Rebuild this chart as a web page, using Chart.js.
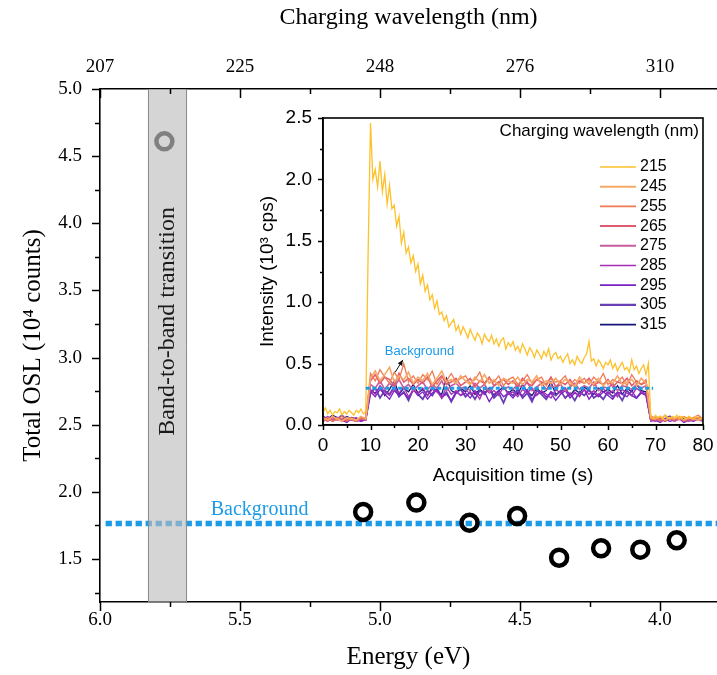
<!DOCTYPE html>
<html>
<head>
<meta charset="utf-8">
<title>Total OSL vs charging energy</title>
<script src="https://cdn.jsdelivr.net/npm/chart.js@4.4.1/dist/chart.umd.min.js"></script>
<style>
  html, body { margin: 0; padding: 0; background: #fff; }
  #wrap { position: relative; width: 717px; height: 675px; background: #fff; }
  #mainChart { position: absolute; left: 0; top: 0; }
  #insetChart { position: absolute; left: 250px; top: 100px; }
</style>
</head>
<body>
<div id="wrap">
  <canvas id="mainChart" width="717" height="675"></canvas>
  <canvas id="insetChart" width="467" height="395"></canvas>
</div>
<script>
const SERIF = "'Liberation Serif', 'Times New Roman', serif";
const SANS = "'Liberation Sans', Arial, sans-serif";
const BLUE = "#1b9be8";

/* ---------- main panel: total OSL vs charging photon energy ---------- */
const energyEv = [5.06, 4.87, 4.68, 4.51, 4.36, 4.21, 4.07, 3.94];
const totalOsl = [1.85, 1.92, 1.77, 1.82, 1.51, 1.58, 1.57, 1.64];
const bandPointEv = [5.77];
const bandPointOsl = [4.61];
const backgroundOsl = 1.765;
const backgroundSpanEv = [5.98, 3.796];
const bandEdgesEv = [5.829, 5.689];
const bandLabelOsl = 3.27;

const energyMajor = [6.0, 5.5, 5.0, 4.5, 4.0];
const energyMinor = [5.75, 5.25, 4.75, 4.25];
const wavelengthLabels = ["207", "225", "248", "276", "310"];
const oslMajor = [1.5, 2.0, 2.5, 3.0, 3.5, 4.0, 4.5, 5.0];
const oslMinor = [1.25, 1.75, 2.25, 2.75, 3.25, 3.75, 4.25, 4.75];

/* ---------- inset: OSL decay curves per charging wavelength ---------- */
const timeFine = [
  0, 0.5, 1, 1.5, 2, 2.5, 3, 3.5, 4, 4.5, 5, 5.5, 6, 6.5, 7, 7.5, 8, 8.5, 9, 9.5,
  10, 10.5, 11, 11.5, 12, 12.5, 13, 13.5, 14, 14.5, 15, 15.5, 16, 16.5, 17, 17.5, 18, 18.5, 19, 19.5,
  20, 20.5, 21, 21.5, 22, 22.5, 23, 23.5, 24, 24.5, 25, 25.5, 26, 26.5, 27, 27.5, 28, 28.5, 29, 29.5,
  30, 30.5, 31, 31.5, 32, 32.5, 33, 33.5, 34, 34.5, 35, 35.5, 36, 36.5, 37, 37.5, 38, 38.5, 39, 39.5,
  40, 40.5, 41, 41.5, 42, 42.5, 43, 43.5, 44, 44.5, 45, 45.5, 46, 46.5, 47, 47.5, 48, 48.5, 49, 49.5,
  50, 50.5, 51, 51.5, 52, 52.5, 53, 53.5, 54, 54.5, 55, 55.5, 56, 56.5, 57, 57.5, 58, 58.5, 59, 59.5,
  60, 60.5, 61, 61.5, 62, 62.5, 63, 63.5, 64, 64.5, 65, 65.5, 66, 66.5, 67, 67.5, 68, 68.5, 69, 69.5,
  70, 70.5, 71, 71.5, 72, 72.5, 73, 73.5, 74, 74.5, 75, 75.5, 76, 76.5, 77, 77.5, 78, 78.5, 79, 79.5,
  80
];
const timeCoarse = [
  0, 1, 2, 3, 4, 5, 6, 7, 8, 9, 10, 11, 12, 13, 14, 15, 16, 17, 18, 19,
  20, 21, 22, 23, 24, 25, 26, 27, 28, 29, 30, 31, 32, 33, 34, 35, 36, 37, 38, 39,
  40, 41, 42, 43, 44, 45, 46, 47, 48, 49, 50, 51, 52, 53, 54, 55, 56, 57, 58, 59,
  60, 61, 62, 63, 64, 65, 66, 67, 68, 69, 70, 71, 72, 73, 74, 75, 76, 77, 78, 79,
  80
];

const wavelengthsNm = ["215", "245", "255", "265", "275", "285", "295", "305", "315"];
const curveColors = ["#fdc12a", "#f6a866", "#ef7a55", "#df5b70", "#c75d9e", "#a62db6", "#7a22c4", "#6840b4", "#16167a"];
const curveWidths = [1.3, 1.6, 1.3, 1.6, 1.6, 1.3, 1.3, 1.8, 1.3];

const osl215 = [
  0.10, 0.14, 0.09, 0.12, 0.08, 0.11, 0.10, 0.13, 0.08, 0.11,
  0.09, 0.12, 0.10, 0.08, 0.12, 0.10, 0.13, 0.09, 0.11, 1.40,
  2.46, 2.00, 2.08, 1.94, 2.15, 1.90, 2.04, 1.80, 1.95, 1.76,
  1.79, 1.62, 1.70, 1.48, 1.57, 1.40, 1.45, 1.32, 1.38, 1.25,
  1.31, 1.15, 1.22, 1.09, 1.14, 1.02, 1.06, 0.95, 1.01, 0.90,
  0.92, 0.85, 0.89, 0.80, 0.83, 0.86, 0.77, 0.81, 0.74, 0.80,
  0.76, 0.71, 0.78, 0.73, 0.69, 0.75, 0.72, 0.66, 0.74, 0.70,
  0.68, 0.73, 0.66, 0.70, 0.64, 0.69, 0.71, 0.62, 0.67, 0.64,
  0.68, 0.61, 0.64, 0.59, 0.66, 0.62, 0.57, 0.63, 0.60, 0.55,
  0.61, 0.58, 0.54, 0.60, 0.56, 0.62, 0.53, 0.57, 0.59, 0.54,
  0.56, 0.51, 0.55, 0.58, 0.50, 0.53, 0.49, 0.56, 0.52, 0.50,
  0.55, 0.58, 0.68, 0.52, 0.54, 0.48, 0.53, 0.50, 0.46, 0.51,
  0.49, 0.53, 0.46, 0.50, 0.44, 0.48, 0.51, 0.45, 0.47, 0.43,
  0.53, 0.45, 0.48, 0.42, 0.46, 0.49, 0.41, 0.50, 0.07, 0.05,
  0.08, 0.06, 0.07, 0.05, 0.08, 0.06, 0.05, 0.07, 0.06, 0.08,
  0.05, 0.07, 0.06, 0.05, 0.07, 0.06, 0.05, 0.07, 0.06, 0.05,
  0.06
];
const osl245 = [
  0.06, 0.04, 0.07, 0.05, 0.03, 0.06, 0.05, 0.04, 0.07, 0.05,
  0.38, 0.44, 0.36, 0.41, 0.47, 0.35, 0.40, 0.37, 0.43, 0.34,
  0.39, 0.36, 0.42, 0.33, 0.38, 0.44, 0.35, 0.37, 0.34, 0.40,
  0.36, 0.33, 0.39, 0.35, 0.41, 0.34, 0.37, 0.32, 0.38, 0.36,
  0.34, 0.39, 0.33, 0.37, 0.35, 0.40, 0.32, 0.36, 0.34, 0.38,
  0.33, 0.37, 0.35, 0.31, 0.39, 0.34, 0.36, 0.33, 0.38, 0.32,
  0.36, 0.34, 0.40, 0.33, 0.35, 0.37, 0.32, 0.38, 0.34, 0.06,
  0.05, 0.07, 0.04, 0.06, 0.05, 0.07, 0.04, 0.06, 0.05, 0.04,
  0.06
];
const osl255 = [
  0.04, 0.06, 0.03, 0.05, 0.07, 0.04, 0.05, 0.03, 0.06, 0.05,
  0.42, 0.36, 0.45, 0.39, 0.34, 0.43, 0.37, 0.50, 0.35, 0.40,
  0.34, 0.41, 0.37, 0.44, 0.33, 0.39, 0.36, 0.42, 0.35, 0.38,
  0.40, 0.34, 0.37, 0.43, 0.33, 0.38, 0.35, 0.40, 0.32, 0.37,
  0.39, 0.33, 0.36, 0.41, 0.34, 0.37, 0.39, 0.32, 0.38, 0.35,
  0.36, 0.40, 0.32, 0.37, 0.34, 0.38, 0.33, 0.39, 0.35, 0.42,
  0.33, 0.37, 0.35, 0.39, 0.32, 0.41, 0.35, 0.33, 0.37, 0.07,
  0.06, 0.04, 0.08, 0.05, 0.06, 0.04, 0.07, 0.05, 0.06, 0.08,
  0.05
];
const osl265 = [
  0.05, 0.03, 0.06, 0.04, 0.05, 0.03, 0.06, 0.04, 0.05, 0.06,
  0.36, 0.41, 0.34, 0.39, 0.37, 0.32, 0.42, 0.35, 0.38, 0.33,
  0.37, 0.34, 0.39, 0.31, 0.36, 0.40, 0.33, 0.35, 0.38, 0.32,
  0.35, 0.38, 0.31, 0.36, 0.34, 0.39, 0.32, 0.35, 0.37, 0.33,
  0.36, 0.31, 0.38, 0.34, 0.32, 0.37, 0.35, 0.33, 0.39, 0.31,
  0.35, 0.33, 0.37, 0.31, 0.36, 0.34, 0.38, 0.32, 0.35, 0.33,
  0.37, 0.31, 0.35, 0.34, 0.38, 0.32, 0.36, 0.33, 0.35, 0.05,
  0.04, 0.06, 0.03, 0.05, 0.04, 0.06, 0.03, 0.05, 0.04, 0.06,
  0.04
];
const osl275 = [
  0.03, 0.05, 0.04, 0.06, 0.03, 0.05, 0.04, 0.03, 0.05, 0.04,
  0.33, 0.30, 0.36, 0.29, 0.34, 0.31, 0.37, 0.30, 0.33, 0.28,
  0.32, 0.35, 0.29, 0.33, 0.30, 0.36, 0.28, 0.32, 0.34, 0.30,
  0.31, 0.28, 0.34, 0.30, 0.33, 0.27, 0.32, 0.35, 0.29, 0.31,
  0.29, 0.33, 0.30, 0.35, 0.28, 0.31, 0.34, 0.29, 0.32, 0.30,
  0.33, 0.28, 0.31, 0.34, 0.29, 0.32, 0.30, 0.35, 0.28, 0.31,
  0.30, 0.34, 0.28, 0.32, 0.31, 0.29, 0.33, 0.30, 0.32, 0.04,
  0.05, 0.03, 0.04, 0.06, 0.03, 0.05, 0.04, 0.03, 0.05, 0.04,
  0.03
];
const osl285 = [
  0.05, 0.07, 0.04, 0.06, 0.03, 0.05, 0.04, 0.06, 0.03, 0.04,
  0.29, 0.25, 0.32, 0.27, 0.24, 0.30, 0.26, 0.31, 0.23, 0.28,
  0.26, 0.30, 0.24, 0.29, 0.27, 0.22, 0.31, 0.25, 0.28, 0.24,
  0.29, 0.25, 0.27, 0.21, 0.30, 0.26, 0.28, 0.24, 0.31, 0.25,
  0.27, 0.23, 0.29, 0.26, 0.30, 0.24, 0.28, 0.25, 0.22, 0.29,
  0.26, 0.30, 0.24, 0.27, 0.23, 0.29, 0.25, 0.28, 0.24, 0.30,
  0.25, 0.28, 0.23, 0.29, 0.26, 0.24, 0.30, 0.27, 0.25, 0.04,
  0.03, 0.05, 0.04, 0.06, 0.03, 0.05, 0.04, 0.03, 0.06, 0.04,
  0.05
];
const osl295 = [
  0.04, 0.06, 0.03, 0.05, 0.04, 0.02, 0.05, 0.03, 0.04, 0.05,
  0.27, 0.23, 0.29, 0.25, 0.21, 0.28, 0.24, 0.26, 0.22, 0.29,
  0.24, 0.27, 0.21, 0.26, 0.29, 0.23, 0.25, 0.20, 0.27, 0.24,
  0.26, 0.22, 0.28, 0.24, 0.27, 0.19, 0.25, 0.28, 0.23, 0.26,
  0.22, 0.27, 0.24, 0.29, 0.21, 0.25, 0.27, 0.23, 0.26, 0.20,
  0.25, 0.28, 0.22, 0.26, 0.24, 0.29, 0.21, 0.26, 0.23, 0.27,
  0.24, 0.21, 0.27, 0.25, 0.23, 0.28, 0.22, 0.26, 0.24, 0.03,
  0.04, 0.02, 0.05, 0.03, 0.04, 0.05, 0.02, 0.04, 0.03, 0.05,
  0.04
];
const osl305 = [
  0.06, 0.04, 0.07, 0.05, 0.08, 0.04, 0.06, 0.05, 0.03, 0.05,
  0.26, 0.30, 0.22, 0.28, 0.25, 0.31, 0.23, 0.27, 0.20, 0.29,
  0.25, 0.21, 0.28, 0.24, 0.30, 0.22, 0.27, 0.19, 0.26, 0.29,
  0.23, 0.27, 0.21, 0.28, 0.25, 0.30, 0.22, 0.26, 0.18, 0.27,
  0.24, 0.29, 0.22, 0.26, 0.19, 0.28, 0.25, 0.21, 0.27, 0.24,
  0.28, 0.22, 0.26, 0.20, 0.27, 0.24, 0.29, 0.22, 0.25, 0.21,
  0.27, 0.23, 0.26, 0.20, 0.28, 0.24, 0.22, 0.27, 0.25, 0.05,
  0.06, 0.04, 0.05, 0.07, 0.04, 0.06, 0.03, 0.05, 0.04, 0.06,
  0.05
];
const osl315 = [
  0.07, 0.05, 0.08, 0.06, 0.04, 0.07, 0.05, 0.03, 0.06, 0.04,
  0.28, 0.26, 0.31, 0.24, 0.29, 0.36, 0.25, 0.30, 0.27, 0.33,
  0.26, 0.29, 0.24, 0.31, 0.27, 0.25, 0.38, 0.28, 0.26, 0.30,
  0.27, 0.32, 0.25, 0.29, 0.26, 0.30, 0.24, 0.28, 0.31, 0.26,
  0.29, 0.25, 0.33, 0.27, 0.24, 0.30, 0.26, 0.28, 0.35, 0.25,
  0.27, 0.30, 0.24, 0.29, 0.26, 0.31, 0.28, 0.25, 0.30, 0.27,
  0.29, 0.26, 0.32, 0.25, 0.30, 0.27, 0.33, 0.28, 0.27, 0.05,
  0.04, 0.06, 0.03, 0.05, 0.04, 0.06, 0.05, 0.03, 0.05, 0.04,
  0.06
];
const curveValues = [osl215, osl245, osl255, osl265, osl275, osl285, osl295, osl305, osl315];
const curveTimes = [timeFine, timeCoarse, timeCoarse, timeCoarse, timeCoarse, timeCoarse, timeCoarse, timeCoarse, timeCoarse];

const timeMajor = [0, 10, 20, 30, 40, 50, 60, 70, 80];
const timeMinor = [5, 15, 25, 35, 45, 55, 65, 75];
const intensityMajor = [0, 0.5, 1.0, 1.5, 2.0, 2.5];
const intensityMinor = [0.25, 0.75, 1.25, 1.75, 2.25];
const insetBackground = 0.3;
const insetBackgroundSpan = [9, 69.5];

/* ---------- helpers ---------- */
function fixedTicks(major, minor) {
  return scale => {
    scale.ticks = major.concat(minor).sort((a, b) => a - b).map(v => ({ value: v }));
  };
}

// fixed box size, and no extra room reserved for edge labels
function fixedBox(w, h) {
  return s => {
    if (w !== null) s.width = w;
    if (h !== null) s.height = h;
    s.paddingLeft = s.paddingRight = s.paddingTop = s.paddingBottom = 0;
  };
}

// tick marks drawn by hand so major/minor lengths and in/out direction can differ
function tickMarks(specs) {
  return {
    id: "tickMarks",
    afterDraw(chart) {
      const ctx = chart.ctx;
      ctx.save();
      ctx.strokeStyle = "#000";
      ctx.lineWidth = 1.5;
      Object.keys(specs).forEach(id => {
        const s = specs[id];
        const scale = chart.scales[id];
        scale.ticks.forEach(t => {
          const len = s.majors.includes(t.value) ? s.major : s.minor;
          const p = Math.round(scale.getPixelForValue(t.value)) + 0.5;
          ctx.beginPath();
          if (s.side === "left") { ctx.moveTo(scale.right, p); ctx.lineTo(scale.right - len, p); }
          if (s.side === "bottom") { ctx.moveTo(p, scale.top); ctx.lineTo(p, scale.top + len); }
          if (s.side === "topIn") { ctx.moveTo(p, scale.bottom); ctx.lineTo(p, scale.bottom + len); }
          ctx.stroke();
        });
      });
      ctx.restore();
    }
  };
}

const axisBorder = { display: true, color: "#000", width: 1.6 };
const noGrid = { display: false, drawTicks: false };

/* ---------- main chart ---------- */
const mainExtras = {
  id: "mainExtras",
  afterDatasetDraw(chart, args) {
    // band goes over the background line but under the markers
    if (args.index !== 2) return;
    const { ctx, chartArea, scales: { x, y } } = chart;
    const x0 = x.getPixelForValue(bandEdgesEv[0]);
    const x1 = x.getPixelForValue(bandEdgesEv[1]);
    ctx.save();
    ctx.fillStyle = "rgba(188,188,188,0.62)";
    ctx.fillRect(x0, chartArea.top, x1 - x0, chartArea.bottom - chartArea.top);
    ctx.strokeStyle = "#8c8c8c";
    ctx.lineWidth = 1;
    ctx.beginPath();
    ctx.moveTo(Math.round(x0) + 0.5, chartArea.top);
    ctx.lineTo(Math.round(x0) + 0.5, chartArea.bottom);
    ctx.moveTo(Math.round(x1) - 0.5, chartArea.top);
    ctx.lineTo(Math.round(x1) - 0.5, chartArea.bottom);
    ctx.stroke();
    ctx.translate((x0 + x1) / 2, y.getPixelForValue(bandLabelOsl));
    ctx.rotate(-Math.PI / 2);
    ctx.fillStyle = "#1a1a1a";
    ctx.font = "24px " + SERIF;
    ctx.textAlign = "center";
    ctx.textBaseline = "middle";
    ctx.fillText("Band-to-band transition", 0, 0);
    ctx.restore();
  },
  afterDraw(chart) {
    const { ctx, scales: { x, y } } = chart;
    ctx.save();
    ctx.fillStyle = BLUE;
    ctx.font = "20px " + SERIF;
    ctx.textAlign = "center";
    ctx.textBaseline = "middle";
    ctx.fillText("Background", x.getPixelForValue(5.43), y.getPixelForValue(1.87));
    ctx.restore();
  }
};

new Chart(document.getElementById("mainChart"), {
  type: "scatter",
  data: {
    datasets: [
      {
        label: "Total OSL",
        data: energyEv.map((e, i) => ({ x: e, y: totalOsl[i] })),
        pointRadius: 8, pointBorderWidth: 4.5,
        pointBorderColor: "#000", pointBackgroundColor: "rgba(0,0,0,0)",
        order: 0
      },
      {
        label: "215 nm",
        data: bandPointEv.map((e, i) => ({ x: e, y: bandPointOsl[i] })),
        pointRadius: 8, pointBorderWidth: 4.5,
        pointBorderColor: "#808080", pointBackgroundColor: "rgba(0,0,0,0)",
        order: 0
      },
      {
        label: "Background",
        type: "line",
        data: backgroundSpanEv.map(e => ({ x: e, y: backgroundOsl })),
        borderColor: BLUE, borderWidth: 5.5, borderDash: [6.3, 3.7],
        pointRadius: 0, fill: false,
        order: 5
      }
    ]
  },
  options: {
    responsive: false,
    animation: false,
    devicePixelRatio: 1,
    layout: { padding: 0, autoPadding: false },
    plugins: { legend: { display: false }, tooltip: { enabled: false } },
    scales: {
      x: {
        type: "linear", position: "bottom", reverse: true,
        min: 3.796, max: 6.0,
        afterBuildTicks: fixedTicks(energyMajor, energyMinor),
        afterFit: fixedBox(null, 73),
        grid: noGrid, border: axisBorder,
        ticks: {
          autoSkip: false, maxRotation: 0, padding: 6.6, color: "#000",
          font: { family: SERIF, size: 19 },
          callback: v => energyMajor.includes(v) ? v.toFixed(1) : ""
        },
        title: {
          display: true, text: "Energy (eV)", color: "#000",
          font: { family: SERIF, size: 25 }, padding: { top: 0, bottom: 3 }
        }
      },
      x2: {
        type: "linear", position: "top", reverse: true,
        min: 3.796, max: 6.0,
        afterBuildTicks: fixedTicks(energyMajor, energyMinor),
        afterFit: fixedBox(null, 89),
        grid: noGrid, border: axisBorder,
        ticks: {
          autoSkip: false, maxRotation: 0, padding: 10.6, color: "#000",
          font: { family: SERIF, size: 19 },
          callback: v => {
            const i = energyMajor.indexOf(v);
            return i >= 0 ? wavelengthLabels[i] : "";
          }
        },
        title: {
          display: true, text: "Charging wavelength (nm)", color: "#000",
          font: { family: SERIF, size: 24 }, padding: { top: 3.6, bottom: 0 }
        }
      },
      y: {
        type: "linear", position: "left",
        min: 1.18, max: 5.0,
        afterBuildTicks: fixedTicks(oslMajor, oslMinor),
        afterFit: fixedBox(100, null),
        grid: noGrid, border: axisBorder,
        ticks: {
          autoSkip: false, padding: 18, color: "#000",
          font: { family: SERIF, size: 19 },
          callback: v => oslMajor.includes(v) ? v.toFixed(1) : ""
        },
        title: {
          display: true, text: "Total OSL (10\u2074 counts)", color: "#000",
          font: { family: SERIF, size: 25 }, padding: { top: 18, bottom: 0 }
        }
      }
    }
  },
  plugins: [
    mainExtras,
    tickMarks({
      y: { side: "left", major: 8, minor: 5, majors: oslMajor },
      x: { side: "bottom", major: 9, minor: 5, majors: energyMajor },
      x2: { side: "topIn", major: 9, minor: 5, majors: energyMajor }
    })
  ]
});

/* ---------- inset chart ---------- */
const insetExtras = {
  id: "insetExtras",
  afterDraw(chart) {
    const { ctx, chartArea: a, scales: { x, y } } = chart;
    ctx.save();
    // closed frame
    ctx.strokeStyle = "#000";
    ctx.lineWidth = 1.6;
    ctx.strokeRect(a.left, a.top, a.right - a.left, a.bottom - a.top);

    // legend
    ctx.fillStyle = "#000";
    ctx.font = "17px " + SANS;
    ctx.textAlign = "right";
    ctx.textBaseline = "middle";
    ctx.fillText("Charging wavelength (nm)", a.right - 4, a.top + 13);
    ctx.font = "16px " + SANS;
    ctx.textAlign = "left";
    wavelengthsNm.forEach((w, i) => {
      const ry = a.top + 49 + i * 19.7;
      ctx.strokeStyle = curveColors[i];
      ctx.lineWidth = curveWidths[i] + 0.4;
      ctx.beginPath();
      ctx.moveTo(a.right - 103, ry);
      ctx.lineTo(a.right - 67, ry);
      ctx.stroke();
      ctx.fillText(w, a.right - 63, ry);
    });

    // background note with arrow
    ctx.fillStyle = BLUE;
    ctx.font = "13px " + SANS;
    ctx.textAlign = "center";
    ctx.fillText("Background", x.getPixelForValue(20.3), y.getPixelForValue(0.60));
    const ax0 = x.getPixelForValue(15.2), ay0 = y.getPixelForValue(0.43);
    const ax1 = x.getPixelForValue(16.8), ay1 = y.getPixelForValue(0.53);
    ctx.strokeStyle = "#111";
    ctx.fillStyle = "#111";
    ctx.lineWidth = 1;
    ctx.beginPath();
    ctx.moveTo(ax0, ay0);
    ctx.lineTo(ax1, ay1);
    ctx.stroke();
    const ang = Math.atan2(ay1 - ay0, ax1 - ax0);
    ctx.beginPath();
    ctx.moveTo(ax1, ay1);
    ctx.lineTo(ax1 - 6 * Math.cos(ang - 0.45), ay1 - 6 * Math.sin(ang - 0.45));
    ctx.lineTo(ax1 - 6 * Math.cos(ang + 0.45), ay1 - 6 * Math.sin(ang + 0.45));
    ctx.closePath();
    ctx.fill();
    ctx.restore();
  }
};

const curveSets = wavelengthsNm.map((w, i) => ({
  label: w,
  data: curveTimes[i].map((t, j) => ({ x: t, y: curveValues[i][j] })),
  borderColor: curveColors[i],
  borderWidth: curveWidths[i],
  pointRadius: 0,
  tension: 0,
  fill: false,
  order: 1
}));
curveSets.push({
  label: "Background",
  data: insetBackgroundSpan.map(t => ({ x: t, y: insetBackground })),
  borderColor: BLUE, borderWidth: 3, borderDash: [4, 2.5],
  pointRadius: 0, fill: false,
  order: 0
});

new Chart(document.getElementById("insetChart"), {
  type: "line",
  data: { datasets: curveSets },
  options: {
    responsive: false,
    animation: false,
    devicePixelRatio: 1,
    layout: { padding: { top: 18, right: 14, left: 0, bottom: 0 }, autoPadding: false },
    plugins: { legend: { display: false }, tooltip: { enabled: false } },
    scales: {
      x: {
        type: "linear", min: 0, max: 80,
        afterBuildTicks: fixedTicks(timeMajor, timeMinor),
        afterFit: fixedBox(null, 70),
        grid: noGrid, border: axisBorder,
        ticks: {
          autoSkip: false, maxRotation: 0, padding: 9, color: "#000",
          font: { family: SANS, size: 19 },
          callback: v => timeMajor.includes(v) ? String(v) : ""
        },
        title: {
          display: true, text: "Acquisition time (s)", color: "#000",
          font: { family: SANS, size: 19 }, padding: { top: 0, bottom: 7.6 }
        }
      },
      y: {
        type: "linear", min: 0, max: 2.5,
        afterBuildTicks: fixedTicks(intensityMajor, intensityMinor),
        afterFit: fixedBox(73, null),
        grid: noGrid, border: axisBorder,
        ticks: {
          autoSkip: false, padding: 11, color: "#000",
          font: { family: SANS, size: 19 },
          callback: v => intensityMajor.includes(v) ? v.toFixed(1) : ""
        },
        title: {
          display: true, text: "Intensity (10\u00b3 cps)", color: "#000",
          font: { family: SANS, size: 19 }, padding: { top: 6.6, bottom: 0 }
        }
      }
    }
  },
  plugins: [
    insetExtras,
    tickMarks({
      y: { side: "left", major: 5, minor: 3, majors: intensityMajor },
      x: { side: "bottom", major: 5, minor: 3, majors: timeMajor }
    })
  ]
});
</script>
</body>
</html>
